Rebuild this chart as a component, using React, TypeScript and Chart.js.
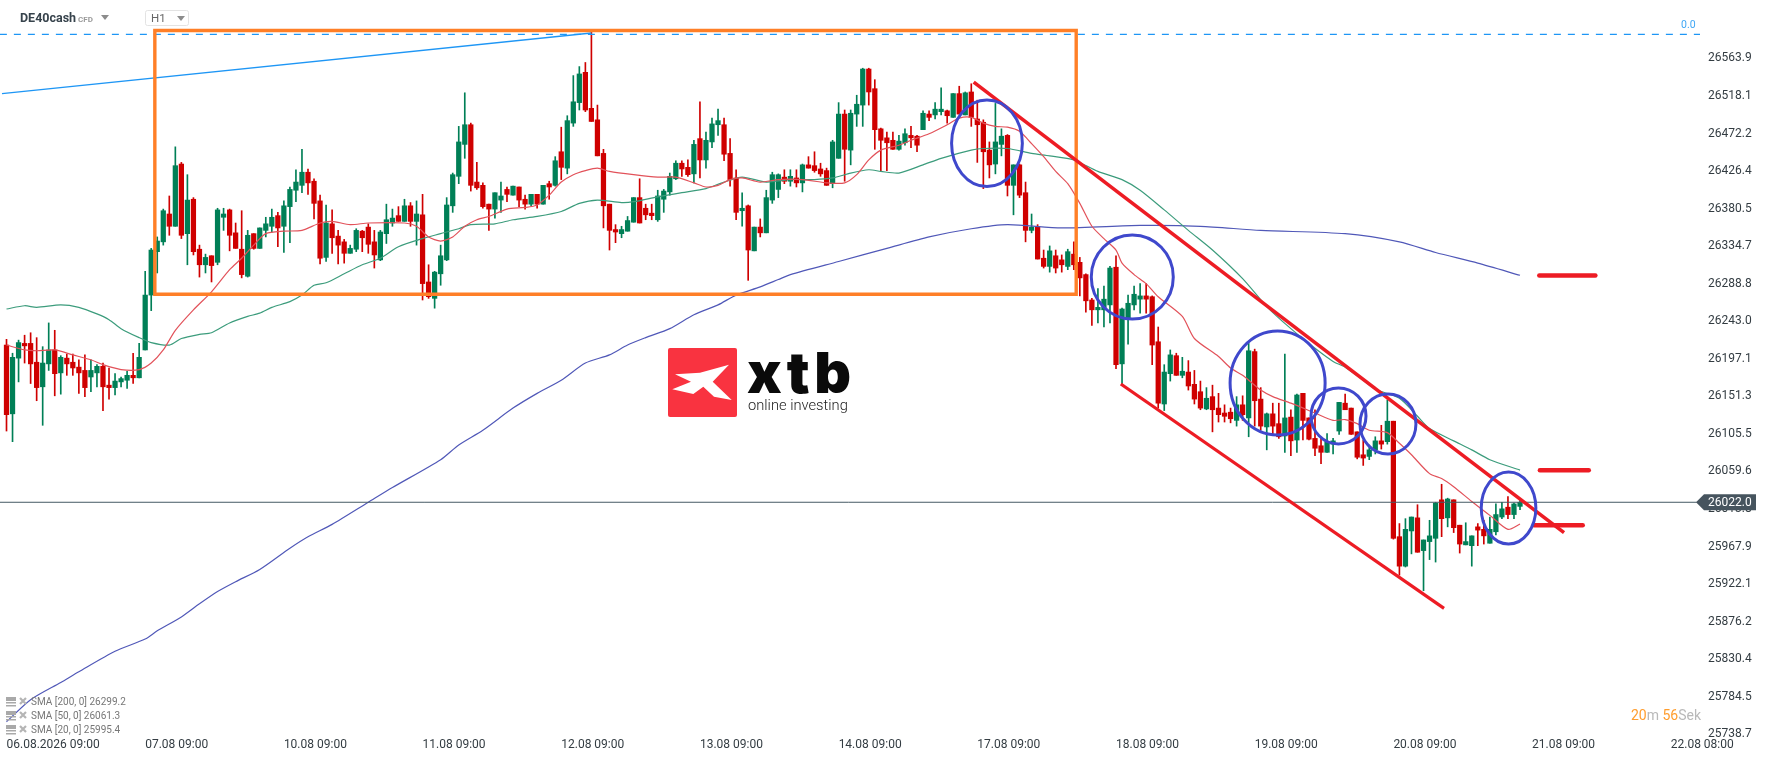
import React, { useEffect, useRef } from "react";
import { Chart, registerables } from "chart.js";

Chart.register(...registerables);

const highs = [
  26221,26204,26220,26226,26229,26223,26212,26241,26232,26201,
  26203,26203,26196,26202,26196,26190,26192,26186,26179,26175,
  26182,26204,26216,26304,26332,26346,26380,26396,26456,26437,
  26422,26394,26336,26325,26323,26381,26381,26380,26363,26378,
  26354,26350,26357,26370,26380,26376,26390,26407,26428,26453,
  26429,26417,26397,26385,26379,26354,26343,26336,26356,26354,
  26362,26354,26354,26386,26380,26383,26392,26388,26390,26398,
  26312,26304,26336,26394,26424,26481,26522,26485,26437,26412,
  26386,26400,26413,26407,26408,26407,26397,26398,26398,26409,
  26414,26444,26480,26494,26543,26554,26559,26596,26507,26453,
  26386,26361,26359,26371,26394,26417,26386,26386,26403,26404,
  26424,26439,26439,26440,26464,26511,26474,26491,26502,26491,
  26466,26428,26400,26385,26358,26368,26403,26425,26423,26428,
  26428,26428,26435,26444,26450,26436,26430,26464,26510,26501,
  26501,26519,26552,26552,26538,26479,26474,26474,26470,26478,
  26481,26470,26500,26500,26510,26528,26501,26521,26530,26523,
  26533,26513,26489,26462,26509,26478,26471,26434,26435,26413,
  26374,26361,26330,26335,26330,26324,26331,26340,26321,26301,
  26271,26283,26286,26310,26323,26259,26275,26286,26289,26289,
  26274,26236,26190,26208,26204,26199,26195,26183,26170,26162,
  26165,26155,26141,26137,26151,26152,26216,26209,26162,26131,
  26143,26143,26203,26135,26154,26155,26125,26135,26102,26106,
  26100,26144,26154,26137,26108,26098,26092,26102,26116,26147,
  26121,25996,26002,26004,26019,25976,26000,26022,26044,26027,
  26025,25994,25997,25981,25996,26000,26004,26020,26022,26029,26021,26025,
];
const lows = [
  26109,26096,26169,26192,26167,26146,26116,26183,26152,26154,
  26177,26177,26155,26151,26157,26163,26134,26148,26153,26163,
  26161,26167,26174,26208,26256,26302,26336,26348,26359,26344,
  26312,26324,26297,26302,26291,26312,26354,26329,26332,26296,
  26297,26331,26332,26346,26352,26334,26327,26339,26389,26400,
  26398,26368,26313,26316,26326,26313,26314,26326,26328,26328,
  26326,26308,26317,26338,26359,26365,26365,26359,26336,26269,
  26271,26259,26287,26317,26376,26411,26442,26402,26404,26381,
  26354,26369,26376,26389,26397,26383,26380,26384,26381,26386,
  26392,26408,26416,26423,26481,26501,26499,26487,26445,26357,
  26330,26339,26345,26353,26364,26363,26367,26367,26365,26376,
  26397,26416,26420,26420,26412,26418,26430,26455,26470,26439,
  26408,26367,26359,26293,26329,26346,26351,26387,26394,26411,
  26408,26407,26401,26430,26425,26420,26409,26406,26442,26414,
  26434,26481,26481,26507,26453,26426,26427,26453,26452,26458,
  26455,26450,26477,26488,26490,26495,26485,26492,26496,26495,
  26481,26437,26405,26418,26423,26445,26396,26373,26394,26340,
  26351,26319,26308,26303,26302,26303,26306,26306,26274,26254,
  26238,26241,26236,26241,26185,26165,26215,26257,26253,26253,
  26190,26137,26134,26170,26177,26174,26159,26142,26135,26135,
  26108,26120,26120,26119,26115,26122,26102,26115,26110,26086,
  26104,26100,26083,26079,26083,26098,26098,26079,26069,26083,
  26081,26105,26135,26105,26075,26067,26074,26081,26087,26093,
  25977,25933,25943,25959,25961,25914,25952,25949,25980,25992,
  25985,25960,25970,25944,25969,25971,25972,25982,26002,26002,26002,26013,
];
const opens = [
  26214,26130,26198,26216,26216,26193,26163,26191,26208,26180,
  26198,26193,26187,26183,26175,26180,26188,26165,26162,26169,
  26171,26177,26174,26208,26275,26328,26340,26374,26359,26435,
  26350,26392,26331,26312,26323,26315,26370,26379,26351,26331,
  26298,26350,26332,26354,26359,26372,26359,26383,26403,26409,
  26425,26414,26390,26321,26362,26347,26340,26326,26331,26353,
  26358,26340,26318,26350,26363,26372,26365,26384,26365,26373,
  26291,26271,26301,26318,26384,26420,26459,26483,26413,26409,
  26386,26380,26391,26404,26397,26407,26392,26386,26398,26386,
  26411,26409,26450,26430,26485,26510,26547,26503,26489,26448,
  26386,26355,26350,26353,26364,26394,26381,26375,26367,26392,
  26401,26417,26436,26431,26423,26466,26440,26462,26483,26483,
  26448,26418,26378,26384,26329,26358,26351,26391,26404,26419,
  26414,26418,26412,26434,26433,26429,26427,26411,26442,26496,
  26452,26496,26507,26551,26527,26478,26467,26464,26453,26461,
  26470,26469,26477,26496,26495,26499,26500,26492,26521,26495,
  26523,26490,26486,26452,26435,26459,26470,26409,26434,26400,
  26354,26358,26320,26310,26323,26318,26310,26325,26315,26300,
  26269,26257,26257,26263,26309,26191,26245,26263,26270,26274,
  26273,26218,26142,26179,26201,26177,26181,26166,26157,26136,
  26151,26137,26131,26132,26122,26141,26125,26206,26148,26114,
  26130,26118,26103,26126,26098,26155,26125,26100,26091,26083,
  26093,26109,26143,26137,26108,26080,26078,26086,26097,26096,
  26121,25980,25944,25987,26003,25963,25974,25978,26025,26003,
  26025,25994,25970,25969,25992,25989,25972,25986,26004,26016,26007,26017,
];
const closes = [
  26129,26199,26217,26213,26191,26162,26192,26208,26179,26199,
  26191,26186,26180,26162,26183,26188,26163,26162,26170,26173,
  26177,26174,26199,26275,26330,26341,26378,26359,26433,26348,
  26391,26328,26312,26321,26311,26379,26374,26348,26332,26300,
  26348,26332,26357,26362,26370,26357,26384,26404,26413,26425,
  26412,26387,26320,26363,26345,26336,26326,26332,26354,26345,
  26337,26324,26352,26367,26369,26365,26384,26365,26374,26289,
  26273,26303,26323,26385,26422,26462,26483,26409,26406,26383,
  26380,26400,26396,26398,26408,26391,26386,26398,26386,26409,
  26407,26439,26431,26488,26511,26545,26501,26487,26445,26384,
  26354,26352,26355,26366,26394,26363,26373,26372,26396,26402,
  26420,26436,26429,26422,26459,26440,26464,26484,26488,26447,
  26416,26376,26381,26330,26358,26351,26394,26422,26422,26414,
  26420,26412,26434,26430,26427,26423,26409,26462,26496,26453,
  26497,26508,26551,26523,26477,26464,26461,26453,26463,26472,
  26467,26458,26497,26492,26502,26502,26494,26521,26496,26522,
  26492,26483,26450,26434,26462,26469,26409,26434,26397,26354,
  26358,26319,26310,26329,26308,26312,26328,26312,26296,26268,
  26257,26260,26270,26308,26190,26258,26265,26276,26274,26270,
  26214,26143,26181,26202,26177,26182,26164,26148,26137,26149,
  26135,26129,26127,26124,26141,26129,26207,26146,26115,26130,
  26115,26102,26125,26097,26153,26122,26099,26088,26083,26096,
  26097,26144,26135,26105,26077,26076,26086,26097,26093,26121,
  25978,25944,25989,26004,25961,25976,25981,26021,26002,26026,
  25991,25971,25974,25981,25988,25981,25989,26007,26014,26007,26020,26022,
];

const sma20Index = [0,3,5,8,11,14,16,19,22,24,26,28,31,34,37,39,41,43,46,49,52,54,57,60,66,68,70,72,74,76,78,80,83,86,88,90,92,94,96,98,100,104,108,111,114,116,118,120,122,125,128,132,136,139,141,143,145,148,150,153,156,158,160,162,164,166,168,170,172,174,176,178,180,182,184,185,187,189,191,195,197,201,203,205,208,210,213,217,220,222,224,226,229,231,233,236,238,240,243,246,249,251];
const sma20Values = [26214,26208,26207,26208,26202,26196,26190,26184,26184,26192,26208,26232,26257,26279,26306,26320,26336,26350,26353,26354,26363,26365,26361,26363,26363,26359,26346,26341,26346,26359,26367,26371,26380,26382,26385,26397,26413,26422,26427,26430,26426,26422,26419,26419,26412,26407,26409,26416,26418,26413,26416,26416,26412,26412,26422,26440,26452,26458,26464,26472,26483,26491,26492,26485,26481,26480,26475,26460,26444,26426,26411,26387,26359,26344,26330,26314,26300,26289,26273,26249,26222,26200,26186,26177,26159,26151,26143,26131,26122,26123,26118,26110,26107,26094,26080,26057,26051,26041,26023,26006,25989,25995.4];

const sma50Index = [0,3,5,9,12,15,17,19,22,24,27,29,32,34,37,40,42,44,47,49,51,53,56,59,62,65,69,72,75,77,81,84,88,92,95,98,102,104,108,112,116,119,122,126,130,134,137,140,143,145,148,152,155,160,162,166,170,173,177,181,185,188,192,196,200,205,209,213,217,220,222,225,227,231,234,236,240,243,246,251];
const sma50Values = [26258,26262,26260,26263,26260,26252,26245,26234,26223,26217,26214,26222,26227,26229,26241,26249,26253,26260,26267,26275,26287,26290,26301,26312,26320,26334,26344,26350,26356,26361,26362,26367,26371,26377,26387,26391,26388,26389,26395,26400,26405,26413,26419,26413,26416,26416,26418,26424,26428,26426,26424,26434,26442,26452,26454,26454,26448,26445,26440,26426,26416,26403,26379,26354,26330,26295,26261,26234,26210,26194,26187,26171,26160,26149,26127,26112,26097,26086,26074,26061.3];

const sma200Index = [0,4,9,12,18,23,25,29,32,35,38,42,47,50,54,60,64,72,75,79,84,88,92,96,100,103,106,110,114,118,121,125,128,130,138,146,153,160,166,175,188,198,208,222,231,237,244,251];
const sma200Values = [25754,25781,25802,25815,25840,25855,25865,25882,25898,25913,25925,25940,25966,25980,25995,26022,26040,26074,26092,26110,26137,26155,26171,26192,26202,26214,26223,26234,26251,26263,26275,26285,26294,26300,26316,26332,26346,26356,26361,26357,26360,26359,26354,26350,26340,26327,26314,26299.2];

const yTickValues = [26563.9,26518.1,26472.2,26426.4,26380.5,26334.7,26288.8,26243.0,26197.1,26151.3,26105.5,26059.6,26013.8,25967.9,25922.1,25876.2,25830.4,25784.5,25738.7];
const xTickIndex = [0,23,46,69,92,115,138,161,184,207,230,253,276];
const xTickLabels = ["06.08.2026 09:00","07.08 09:00","10.08 09:00","11.08 09:00","12.08 09:00","13.08 09:00","14.08 09:00","17.08 09:00","18.08 09:00","19.08 09:00","20.08 09:00","21.08 09:00","22.08 08:00"];

const currentPrice = 26022.0;
const fibLevel = 26593.4;
const fibLabel = "0.0";
const blueTrendIndex = [-0.75, 97];
const blueTrendValues = [26521, 26595];
const rangeBoxIndex = [24.6, 177.4, 177.4, 24.6, 24.6];
const rangeBoxValues = [26598, 26598, 26276, 26276, 26598];
const channelTopIndex = [160.4, 258.3];
const channelTopValues = [26535, 25985];
const channelBottomIndex = [184.8, 238.4];
const channelBottomValues = [26166.4, 25892.5];
const targetIndex = [[254.2, 263.5], [254.3, 262.4], [253.3, 261.4]];
const targetValues = [26299, 26061, 25994];
// ellipse centre index, centre price, index radius, price radius
const ellipseCenterIndex = [162.6, 186.7, 210.8, 220.9, 229.1, 249.1];
const ellipseCenterValues = [26460.4, 26297.1, 26167.7, 26127.4, 26117.6, 26015];
const ellipseRadiusIndex = [5.87, 6.8, 7.88, 4.56, 4.64, 4.53];
const ellipseRadiusValues = [52.9, 51.3, 63.5, 34.2, 36.6, 44];

const legendLines = ["SMA [200, 0] 26299.2", "SMA [50, 0] 26061.3", "SMA [20, 0] 25995.4"];

const UP = "#007f56";
const DOWN = "#cf0000";
const PAINT_RED = "#ed1c24";
const ROBOTO = "Roboto, sans-serif";

const pairs = (xs: number[], ys: number[]) => xs.map((x, i) => ({ x, y: ys[i] }));

const line = (data: any[], color: string, width: number, order: number, extra: any = {}) => ({
  type: "line" as const,
  data,
  borderColor: color,
  borderWidth: width,
  pointRadius: 0,
  order,
  ...extra,
});

const overlay = {
  id: "overlay",
  beforeDatasetsDraw(chart: any) {
    const c = chart.ctx as CanvasRenderingContext2D;
    c.save();
    c.fillStyle = "#f93340";
    c.beginPath();
    c.roundRect(668, 348, 69, 69, 2);
    c.fill();
    c.fillStyle = "#ffffff";
    c.beginPath();
    const mark = [[675,374.3],[700,372.7],[729,364.7],[712.7,381.7],[731.7,400],[714,396.7],[703.3,386.7],[693.3,394],[672.3,389.3],[691,381.7]];
    mark.forEach(([x, y], i) => (i ? c.lineTo(x, y) : c.moveTo(x, y)));
    c.closePath();
    c.fill();
    c.fillStyle = "#0a0a0a";
    c.textAlign = "left";
    c.textBaseline = "alphabetic";
    c.font = "900 57px Inter, Roboto, sans-serif";
    (c as any).letterSpacing = "4.5px";
    c.fillText("xtb", 747, 393);
    (c as any).letterSpacing = "0px";
    c.fillStyle = "#222222";
    c.font = "300 14.7px Roboto, sans-serif";
    c.fillText("online investing", 748, 410);
    c.restore();
  },
  afterDatasetsDraw(chart: any) {
    const c = chart.ctx as CanvasRenderingContext2D;
    const { x, y } = chart.scales;
    c.save();
    c.strokeStyle = "#3f48cc";
    c.lineWidth = 3;
    ellipseCenterIndex.forEach((cx, i) => {
      const px = x.getPixelForValue(cx);
      const py = y.getPixelForValue(ellipseCenterValues[i]);
      const rx = Math.abs(x.getPixelForValue(cx + ellipseRadiusIndex[i]) - px);
      const ry = Math.abs(y.getPixelForValue(ellipseCenterValues[i] + ellipseRadiusValues[i]) - py);
      c.beginPath();
      c.ellipse(px, py, rx, ry, 0, 0, Math.PI * 2);
      c.stroke();
    });
    c.restore();
  },
  afterDraw(chart: any) {
    const c = chart.ctx as CanvasRenderingContext2D;
    const { y } = chart.scales;
    c.save();
    c.textBaseline = "middle";
    c.textAlign = "left";

    const py = y.getPixelForValue(currentPrice);
    c.fillStyle = "#46545e";
    c.beginPath();
    c.moveTo(1696, py);
    c.lineTo(1704, py - 8);
    c.lineTo(1756, py - 8);
    c.lineTo(1756, py + 8);
    c.lineTo(1704, py + 8);
    c.closePath();
    c.fill();
    c.fillStyle = "#ffffff";
    c.font = `12px ${ROBOTO}`;
    c.fillText(currentPrice.toFixed(1), 1708, py + 0.5);

    c.fillStyle = "#3ea6f5";
    c.font = `10.5px ${ROBOTO}`;
    c.fillText(fibLabel, 1681, 25);

    c.fillStyle = "#37434c";
    c.font = `bold 12.5px ${ROBOTO}`;
    c.fillText("DE40cash", 20, 18.5);
    c.fillStyle = "#9a9a9a";
    c.font = `bold 8px ${ROBOTO}`;
    c.fillText("CFD", 78, 19.5);
    const tri = (x0: number, x1: number, y0: number, y1: number) => {
      c.fillStyle = "#8c8c8c";
      c.beginPath();
      c.moveTo(x0, y0);
      c.lineTo(x1, y0);
      c.lineTo((x0 + x1) / 2, y1);
      c.closePath();
      c.fill();
    };
    tri(101, 109, 15, 20);
    c.strokeStyle = "#e3e3e3";
    c.lineWidth = 1;
    c.beginPath();
    c.roundRect(145.5, 10.5, 43, 15, 2);
    c.stroke();
    c.fillStyle = "#666666";
    c.font = `11.5px ${ROBOTO}`;
    c.fillText("H1", 151, 19.5);
    tri(177, 185, 16, 21);

    const legendY = [702, 716, 730];
    legendLines.forEach((t, i) => {
      const ly = legendY[i];
      c.fillStyle = "#a9a9a9";
      c.fillRect(6, ly - 5, 10, 4);
      c.fillRect(6, ly + 0, 10, 1.5);
      c.fillRect(6, ly + 3, 10, 1.5);
      c.strokeStyle = "#b5b5b5";
      c.lineWidth = 2.2;
      c.beginPath();
      c.moveTo(20, ly - 4);
      c.lineTo(26, ly + 2);
      c.moveTo(26, ly - 4);
      c.lineTo(20, ly + 2);
      c.stroke();
      c.fillStyle = "#777777";
      c.font = `10px ${ROBOTO}`;
      c.fillText(t, 31, ly);
    });

    c.font = `14px ${ROBOTO}`;
    let cx = 1631;
    [["20", "#ff9d2e"], ["m ", "#b9b9b9"], ["56", "#ff9d2e"], ["Sek", "#b9b9b9"]].forEach(([t, col]) => {
      c.fillStyle = col;
      c.fillText(t, cx, 716);
      cx += c.measureText(t).width;
    });
    c.restore();
  },
};

export default function App() {
  const ref = useRef<HTMLCanvasElement>(null);

  useEffect(() => {
    document.body.style.margin = "0";
    document.body.style.background = "#ffffff";
    const indices = closes.map((_, i) => i);
    const colors = closes.map((v, i) => (v >= opens[i] ? UP : DOWN));
    const chart = new Chart(ref.current as HTMLCanvasElement, {
      type: "bar",
      data: {
        datasets: [
          {
            type: "bar",
            label: "wicks",
            data: indices.map((i) => ({ x: i, y: [lows[i], highs[i]] })),
            backgroundColor: colors,
            barThickness: 1,
            grouped: false,
            order: 20,
          },
          {
            type: "bar",
            label: "bodies",
            data: indices.map((i) => ({ x: i, y: [opens[i], closes[i]] })),
            backgroundColor: colors,
            barThickness: 4.6,
            grouped: false,
            order: 19,
          },
          line(pairs(sma200Index, sma200Values), "#5058b8", 1.2, 12, { tension: 0.25 }),
          line(pairs(sma50Index, sma50Values), "#3c9c7c", 1.2, 11, { tension: 0.25 }),
          line(pairs(sma20Index, sma20Values), "#e2525a", 1.2, 10, { tension: 0.25 }),
          line([{ x: -1.1, y: currentPrice }, { x: 280.3, y: currentPrice }], "#455a64", 1, 9),
          line([{ x: -1.1, y: fibLevel }, { x: 280.9, y: fibLevel }], "#1e96f5", 1.2, 8, { borderDash: [7, 7] }),
          line(pairs(blueTrendIndex, blueTrendValues), "#1e96f5", 1.3, 7),
          line(pairs(rangeBoxIndex, rangeBoxValues), "#ff7f27", 3.4, 6, { borderJoinStyle: "miter", borderCapStyle: "square" }),
          line(pairs(channelTopIndex, channelTopValues), PAINT_RED, 3.6, 5),
          line(pairs(channelBottomIndex, channelBottomValues), PAINT_RED, 3.2, 4),
          ...targetIndex.map((xs, i) =>
            line(pairs(xs, [targetValues[i], targetValues[i]]), PAINT_RED, 4.5, 3, { borderCapStyle: "round" })
          ),
        ] as any,
      },
      options: {
        responsive: false,
        animation: false,
        devicePixelRatio: 1,
        layout: { padding: 0, autoPadding: false },
        plugins: { legend: { display: false }, tooltip: { enabled: false } },
        scales: {
          x: {
            type: "linear",
            offset: false,
            min: -1.078,
            max: 280.85,
            grid: { display: false, drawTicks: false, offset: false },
            border: { display: false },
            afterBuildTicks: (s: any) => {
              s.ticks = xTickIndex.map((value) => ({ value }));
            },
            afterFit: (s: any) => {
              s.height = 24;
              s.paddingLeft = 0;
              s.paddingRight = 0;
            },
            ticks: {
              autoSkip: false,
              maxRotation: 0,
              align: "start",
              padding: 1,
              color: "#333c42",
              font: { family: ROBOTO, size: 12 },
              callback: (v: any) => xTickLabels[xTickIndex.indexOf(Number(v))] ?? "",
            },
          },
          y: {
            type: "linear",
            position: "right",
            offset: false,
            min: 25735.4,
            max: 26635.3,
            grid: { display: false, drawTicks: false },
            border: { display: false },
            afterBuildTicks: (s: any) => {
              s.ticks = yTickValues.map((value) => ({ value }));
            },
            afterFit: (s: any) => {
              s.width = 68;
              s.paddingTop = 0;
              s.paddingBottom = 0;
            },
            ticks: {
              autoSkip: false,
              padding: 8,
              color: "#333c42",
              font: { family: ROBOTO, size: 12 },
              callback: (v: any) => Number(v).toFixed(1),
            },
          },
        },
      } as any,
      plugins: [overlay],
    });
    return () => chart.destroy();
  }, []);

  return <canvas ref={ref} width={1768} height={761} style={{ display: "block" }} />;
}
